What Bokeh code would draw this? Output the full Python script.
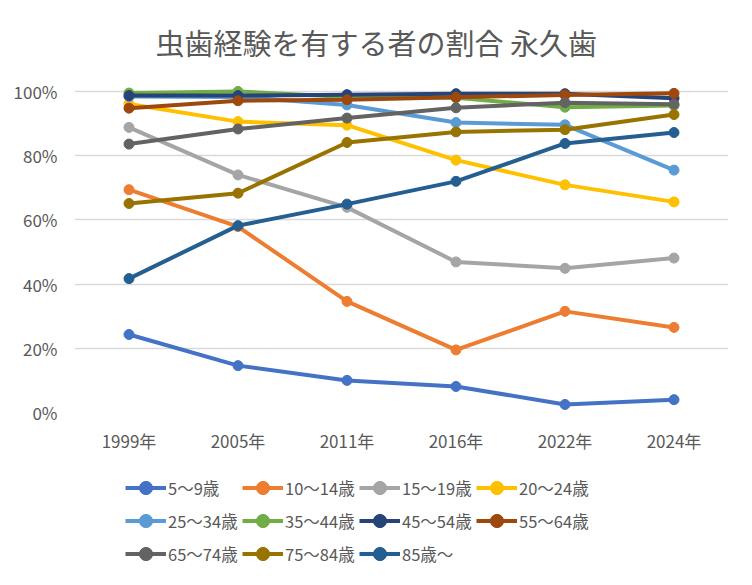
from bokeh.plotting import figure
from bokeh.models import (Range1d, FactorRange, FixedTicker, PrintfTickFormatter,
                          Legend, LegendItem)
from bokeh.layouts import column
from bokeh.embed import file_html
from bokeh.resources import INLINE

years = ["1999年", "2005年", "2011年", "2016年", "2022年", "2024年"]
series_names = ["5～9歳", "10～14歳", "15～19歳", "20～24歳",
                "25～34歳", "35～44歳", "45～54歳", "55～64歳",
                "65～74歳", "75～84歳", "85歳～"]
age_5_9 = [24.3, 14.6, 10.0, 8.1, 2.5, 4.0]
age_10_14 = [69.4, 57.9, 34.6, 19.5, 31.5, 26.5]
age_15_19 = [88.8, 74.0, 63.9, 46.9, 44.9, 48.1]
age_20_24 = [96.1, 90.6, 89.5, 78.6, 70.9, 65.6]
age_25_34 = [98.4, 98.3, 95.8, 90.3, 89.6, 75.5]
age_35_44 = [99.5, 100.0, 98.3, 98.0, 95.1, 95.6]
age_45_54 = [98.7, 98.7, 99.0, 99.3, 99.3, 97.9]
age_55_64 = [94.8, 97.1, 97.4, 98.2, 98.9, 99.4]
age_65_74 = [83.6, 88.3, 91.7, 94.9, 96.5, 96.0]
age_75_84 = [65.1, 68.3, 84.1, 87.4, 88.1, 92.8]
age_85_up = [41.7, 58.2, 64.9, 72.0, 83.8, 87.2]
y_ticks = [0, 20, 40, 60, 80, 100]

all_series = [age_5_9, age_10_14, age_15_19, age_20_24, age_25_34, age_35_44,
              age_45_54, age_55_64, age_65_74, age_75_84, age_85_up]
colors = ["#4472C4", "#ED7D31", "#A5A5A5", "#FFC000", "#5B9BD5", "#70AD47",
          "#264478", "#9E480E", "#636363", "#997300", "#255E91"]

FONT = "Noto Sans CJK JP"
TXT = "#595959"
LW = 4
MS = 10

# ---- main chart ----
p = figure(width=736, height=462, output_backend="svg", toolbar_location=None,
           x_range=FactorRange(factors=years, range_padding=0),
           y_range=Range1d(0, 105.9))
p.min_border_left = 74
p.min_border_right = 8
p.min_border_top = 72
p.min_border_bottom = 50
p.outline_line_color = None
p.background_fill_color = "white"
p.border_fill_color = "white"

p.title.text = "虫歯経験を有する者の割合 永久歯"
p.title.text_font = FONT
p.title.text_font_size = "29px"
p.title.text_font_style = "normal"
p.title.text_color = TXT
p.title.align = "left"
p.title.offset = 81
p.title.standoff = 20

p.xgrid.grid_line_color = None
p.ygrid.grid_line_color = "#D9D9D9"
p.ygrid.grid_line_width = 1.5

p.yaxis.ticker = FixedTicker(ticks=y_ticks)
p.yaxis.formatter = PrintfTickFormatter(format="%d%%")
for ax in (p.xaxis[0], p.yaxis[0]):
    ax.axis_line_color = None
    ax.major_tick_line_color = None
    ax.minor_tick_line_color = None
    ax.major_tick_out = 0
    ax.major_tick_in = 0
    ax.major_label_text_font = FONT
    ax.major_label_text_font_size = "17px"
    ax.major_label_text_color = TXT
p.yaxis.major_label_standoff = 17
p.xaxis.major_label_standoff = 15

for vals, col in zip(all_series, colors):
    p.line(years, vals, line_color=col, line_width=LW)
    p.scatter(years, vals, marker="circle", size=MS, fill_color=col,
              line_color=col)

# ---- legend strip (same series, kept outside the visible range) ----
q = figure(width=736, height=110, output_backend="svg", toolbar_location=None,
           x_range=FactorRange(factors=years, range_padding=0),
           y_range=Range1d(1000, 1001), x_axis_type=None, y_axis_type=None)
q.min_border = 0
q.min_border_left = 0
q.min_border_right = 0
q.min_border_top = 0
q.min_border_bottom = 0
q.outline_line_color = None
q.background_fill_color = "white"
q.border_fill_color = "white"
q.grid.visible = False

items = []
for name, vals, col in zip(series_names, all_series, colors):
    r1 = q.line(years, vals, line_color=col, line_width=LW)
    r2 = q.scatter(years, vals, marker="circle", size=MS, fill_color=col,
                   line_color=col)
    items.append(LegendItem(label=name, renderers=[r1, r2]))

legend = Legend(items=items, orientation="horizontal", ncols=4,
                location=(51, 2))
legend.padding = 0
legend.margin = 0
legend.spacing = 0
legend.border_line_color = None
legend.background_fill_alpha = 0
legend.glyph_width = 41
legend.glyph_height = 33
legend.label_height = 33
legend.label_width = 74
legend.label_standoff = 2
legend.label_text_font = FONT
legend.label_text_font_size = "16.5px"
legend.label_text_color = TXT
q.add_layout(legend, "center")

layout = column(p, q, spacing=0)
open("out.html", "w").write(file_html(layout, INLINE))
